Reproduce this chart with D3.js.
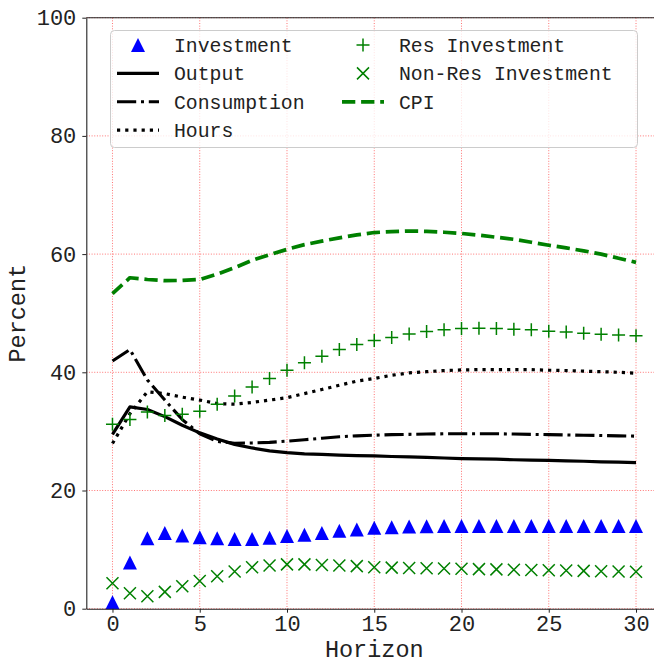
<!DOCTYPE html>
<html>
<head>
<meta charset="utf-8">
<script src="https://cdn.jsdelivr.net/npm/d3@7"></script>
<style>
  html, body { margin: 0; padding: 0; background: #fff; overflow: hidden; }
  svg { display: block; }
  text { font-family: "Courier New", "Liberation Mono", monospace; fill: #222; }
</style>
</head>
<body>
<div id="chart"></div>
<script>
// ---------------- data ----------------
const horizon = d3.range(0, 31);
const investment = [1.1, 7.8, 11.9, 12.8, 12.4, 12.1, 11.9, 11.8, 11.8, 12.0, 12.3, 12.5, 12.8, 13.2, 13.4, 13.7, 13.8, 13.9, 13.95, 14.0, 14.0, 14.0, 14.0, 14.0, 14.0, 14.0, 14.0, 14.0, 14.0, 14.0, 14.0];
const output = [29.5, 34.15, 33.7, 32.5, 31.05, 29.75, 28.7, 27.8, 27.2, 26.7, 26.4, 26.2, 26.1, 26.0, 25.9, 25.85, 25.75, 25.7, 25.6, 25.5, 25.4, 25.35, 25.3, 25.2, 25.15, 25.1, 25.0, 24.95, 24.85, 24.8, 24.7];
const consumption = [41.9, 43.85, 38.7, 35.3, 32.0, 29.6, 28.3, 28.0, 28.05, 28.15, 28.35, 28.6, 28.85, 29.1, 29.25, 29.35, 29.45, 29.5, 29.55, 29.6, 29.6, 29.6, 29.6, 29.55, 29.5, 29.45, 29.4, 29.35, 29.3, 29.25, 29.2];
const hours = [27.95, 33.0, 36.7, 36.4, 35.8, 35.3, 34.7, 34.6, 34.9, 35.3, 35.7, 36.4, 37.1, 37.8, 38.5, 38.95, 39.5, 39.9, 40.1, 40.3, 40.4, 40.45, 40.45, 40.45, 40.45, 40.35, 40.3, 40.2, 40.1, 40.0, 39.85];
const resInvestment = [31.2, 32.0, 33.3, 32.7, 32.9, 33.4, 34.6, 36.0, 37.5, 38.95, 40.35, 41.6, 42.7, 43.85, 44.7, 45.4, 45.9, 46.5, 46.9, 47.2, 47.4, 47.45, 47.4, 47.3, 47.2, 46.95, 46.8, 46.6, 46.45, 46.3, 46.2];
const nonResInvestment = [4.3, 2.6, 2.1, 2.85, 3.8, 4.7, 5.5, 6.3, 7.0, 7.3, 7.5, 7.5, 7.4, 7.3, 7.2, 7.0, 6.95, 6.9, 6.85, 6.8, 6.75, 6.7, 6.65, 6.6, 6.55, 6.5, 6.45, 6.4, 6.35, 6.3, 6.25];
const cpi = [53.3, 56.0, 55.7, 55.5, 55.55, 55.7, 56.6, 57.7, 58.95, 59.9, 60.8, 61.6, 62.2, 62.75, 63.25, 63.65, 63.8, 63.9, 63.85, 63.7, 63.5, 63.2, 62.85, 62.5, 62.0, 61.5, 61.05, 60.55, 60.0, 59.3, 58.6];

const xTicks = [0, 5, 10, 15, 20, 25, 30];
const yTicks = [0, 20, 40, 60, 80, 100];
const xLabel = "Horizon";
const yLabel = "Percent";

// ---------------- layout ----------------
const W = 654, H = 664;
const plot = { left: 86.3, right: 662.2, top: 17.7, bottom: 608.7 };

const svg = d3.select("#chart").append("svg").attr("width", W).attr("height", H);

const x = d3.scaleLinear().domain([-1.5, 31.5]).range([plot.left, plot.right]);
const y = d3.scaleLinear().domain([0, 100]).range([plot.bottom, plot.top]);

const BLUE = "#0000ff", GREEN = "#008000", BLACK = "#000000";

// grid
const grid = svg.append("g");
grid.selectAll("line.gx").data(xTicks).join("line")
  .attr("x1", d => x(d)).attr("x2", d => x(d))
  .attr("y1", plot.top).attr("y2", plot.bottom)
  .attr("stroke", "#ff0000").attr("stroke-opacity", 0.55)
  .attr("stroke-width", 1).attr("stroke-dasharray", "1,1.65");
grid.selectAll("line.gy").data(yTicks).join("line")
  .attr("x1", plot.left).attr("x2", plot.right)
  .attr("y1", d => y(d)).attr("y2", d => y(d))
  .attr("stroke", "#ff0000").attr("stroke-opacity", 0.55)
  .attr("stroke-width", 1).attr("stroke-dasharray", "1,1.65");

// marker paths
function triPath(s) { const h = s / 2; return `M0,${-h}L${-h},${h}L${h},${h}Z`; }
function plusPath(s) { const h = s / 2; return `M${-h},0H${h}M0,${-h}V${h}`; }
function xPath(s) { const h = s / 2; return `M${-h},${-h}L${h},${h}M${-h},${h}L${h},${-h}`; }

const lineGen = d3.line().x((d, i) => x(horizon[i])).y(d => y(d));

const series = [
  { name: "Investment", type: "marker", data: investment, path: triPath(14), fill: BLUE, stroke: "none", sw: 0 },
  { name: "Output", type: "line", data: output, color: BLACK, width: 3.2, dash: null },
  { name: "Consumption", type: "line", data: consumption, color: BLACK, width: 3.1, dash: "19.2,4.8,3,4.8" },
  { name: "Hours", type: "line", data: hours, color: BLACK, width: 3.2, dash: "3.2,5.0" },
  { name: "Res Investment", type: "marker", data: resInvestment, path: plusPath(13), fill: "none", stroke: GREEN, sw: 1.5 },
  { name: "Non-Res Investment", type: "marker", data: nonResInvestment, path: xPath(12), fill: "none", stroke: GREEN, sw: 1.5 },
  { name: "CPI", type: "line", data: cpi, color: GREEN, width: 3.7, dash: "13.3,5.8" }
];

const marks = svg.append("g");
series.forEach(s => {
  if (s.type === "line") {
    marks.append("path").datum(s.data)
      .attr("d", lineGen)
      .attr("fill", "none").attr("stroke", s.color).attr("stroke-width", s.width)
      .attr("stroke-dasharray", s.dash).attr("stroke-linejoin", "round");
  } else {
    marks.append("g").selectAll("path").data(s.data).join("path")
      .attr("transform", (d, i) => `translate(${x(horizon[i])},${y(d)})`)
      .attr("d", s.path).attr("fill", s.fill).attr("stroke", s.stroke).attr("stroke-width", s.sw);
  }
});

// axes
const xAxis = svg.append("g").attr("transform", `translate(0,${plot.bottom})`)
  .call(d3.axisBottom(x).tickValues(xTicks).tickSize(4).tickPadding(3).tickSizeOuter(0));
const yAxis = svg.append("g").attr("transform", `translate(${plot.left},0)`)
  .call(d3.axisLeft(y).tickValues(yTicks).tickSize(4).tickPadding(6).tickSizeOuter(0));
[xAxis, yAxis].forEach(a => {
  a.select(".domain").attr("stroke", "#222").attr("stroke-width", 1.1);
  a.selectAll(".tick line").attr("stroke", "#222").attr("stroke-width", 1);
  a.selectAll(".tick text").style("font-size", "22px").attr("fill", "#222")
    .style("font-family", '"Courier New", "Liberation Mono", monospace');
});
// top spine
svg.append("line").attr("x1", plot.left).attr("x2", plot.right)
  .attr("y1", plot.top).attr("y2", plot.top).attr("stroke", "#222").attr("stroke-width", 1.1);

// axis labels
svg.append("text").attr("x", (plot.left + plot.right) / 2).attr("y", 657)
  .attr("text-anchor", "middle").style("font-size", "23.5px").text(xLabel);
svg.append("text").attr("transform", `translate(25,${(plot.top + plot.bottom) / 2}) rotate(-90)`)
  .attr("text-anchor", "middle").style("font-size", "23.5px").text(yLabel);

// legend
const leg = svg.append("g");
leg.append("rect").attr("x", 110.5).attr("y", 30.5).attr("width", 527).attr("height", 117)
  .attr("rx", 4).attr("fill", "#fff").attr("fill-opacity", 0.8).attr("stroke", "#ccc").attr("stroke-width", 1);
const colX = [{ h0: 117, h1: 159, t: 174 }, { h0: 342, h1: 384, t: 399 }];
const rowY0 = 45, rowDy = 28.4;
const layout = [[0, 0], [0, 1], [0, 2], [0, 3], [1, 0], [1, 1], [1, 2]];
series.forEach((s, k) => {
  const [c, r] = layout[k];
  const cy = rowY0 + r * rowDy;
  const col = colX[c];
  if (s.type === "line") {
    leg.append("line").attr("x1", col.h0).attr("x2", col.h1).attr("y1", cy).attr("y2", cy)
      .attr("stroke", s.color).attr("stroke-width", s.width).attr("stroke-dasharray", s.dash);
  } else {
    leg.append("path").attr("transform", `translate(${(col.h0 + col.h1) / 2},${cy})`)
      .attr("d", s.path).attr("fill", s.fill).attr("stroke", s.stroke).attr("stroke-width", s.sw);
  }
  leg.append("text").attr("x", col.t).attr("y", cy).attr("dy", "0.35em")
    .style("font-size", "19.8px").text(s.name);
});
</script>
</body>
</html>
